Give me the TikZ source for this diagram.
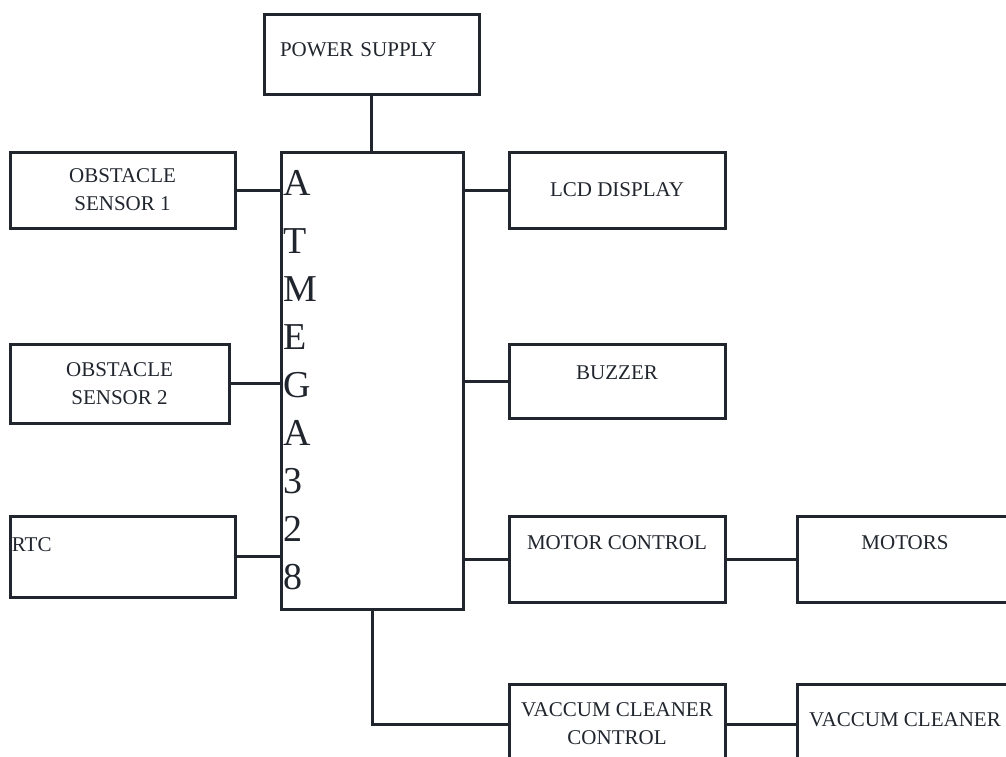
\documentclass[tikz,border=0pt]{standalone}
\usepackage{fontspec}
\setmainfont{Liberation Serif}
\definecolor{ink}{RGB}{33,38,46}
\begin{document}
\begin{tikzpicture}
  [x=1pt,y=-1pt,line width=3pt,color=ink,
   every node/.style={rectangle,draw,line width=3pt,font=\fontsize{21}{28}\selectfont,align=center,inner sep=2pt}]
  \tikzstyle{block} = [minimum width=216pt]
  \useasboundingbox (0,0) rectangle (1006,756);
  \clip (0,0) rectangle (1006,756);
  \node (ps)  at (371.5,54)   [minimum height=80pt,text width=183pt,inner xsep=16pt,align=left,text depth=8pt] {POWER SUPPLY};
  \node (mcu) at (372,380.5)  [minimum width=182pt,minimum height=457pt,text width=178pt,inner xsep=1pt,align=left,font=\fontsize{38}{48}\selectfont] {A\\[10pt]T\\M\\E\\G\\A\\3\\2\\8};
  \node (os1) at (122.5,190)  [minimum width=225pt,minimum height=76pt] {OBSTACLE\\SENSOR 1};
  \node (os2) at (119.5,383.5) [minimum width=219pt,minimum height=79pt] {OBSTACLE\\SENSOR 2};
  \node (rtc) at (122.5,556.5) [minimum height=81pt,text width=221pt,align=left,text depth=23pt] {RTC};
  \node (lcd) at (617,190)    [block,minimum height=76pt] {LCD DISPLAY};
  \node (buz) at (617,381)    [block,minimum height=74pt,text depth=16pt] {BUZZER};
  \node (mc)  at (617,559)    [block,minimum height=86pt,text depth=32pt] {MOTOR CONTROL};
  \node (mot) at (905,559)    [block,minimum height=86pt,text depth=32pt] {MOTORS};
  \node (vcc) at (617,724)    [block,minimum height=80pt] {VACCUM CLEANER\\CONTROL};
  \node (vac) at (905,724)    [block,minimum height=80pt,text depth=8pt] {VACCUM CLEANER};
  \draw (ps.south) -- (ps.south |- mcu.north);
  \foreach \source in {os1,os2,rtc}
   \draw (\source.east) -- (\source.east -| mcu.west);
  \foreach \dest in {lcd,buz,mc}
   \draw (mcu.east |- \dest.west) -- (\dest.west);
  \foreach \source /\dest in {mc/mot,vcc/vac}
   \draw (\source) -- (\dest);
  \draw (mcu.south) |- (vcc.west);
\end{tikzpicture}
\end{document}
